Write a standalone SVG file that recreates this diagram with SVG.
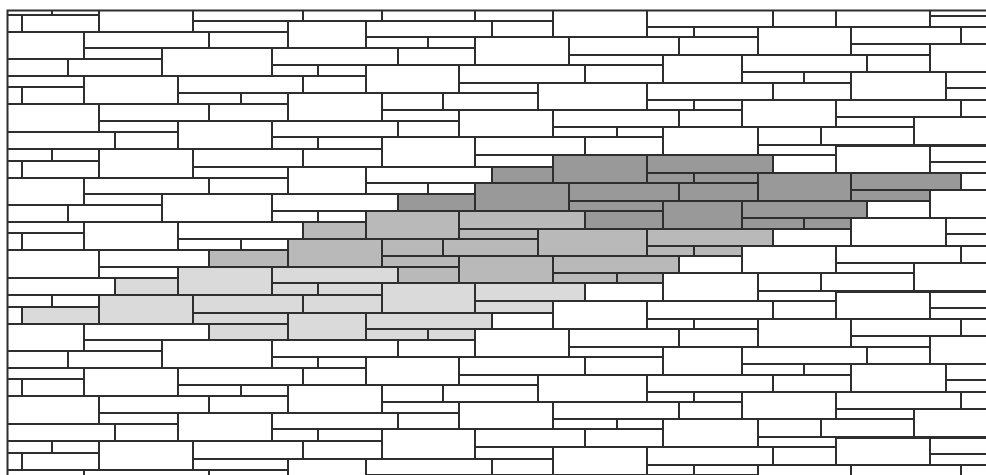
<svg xmlns="http://www.w3.org/2000/svg" width="986" height="475" viewBox="0 0 986 475">
<style>
.st{stroke:#2e2e2e;stroke-width:2}
.w{fill:#fff}
.l{fill:#dadada}
.m{fill:#b9b9b9}
.d{fill:#999}
</style>
<defs>
<clipPath id="clip"><rect x="7" y="10" width="990" height="480"/></clipPath>
<g id="band" fill="#fff" stroke="#2e2e2e" stroke-width="2">
<rect x="-20" y="3" width="72" height="12"/>
<rect x="52" y="3" width="47" height="12"/>
<rect x="99" y="3" width="94" height="29"/>
<rect x="193" y="3" width="110" height="18"/>
<rect x="303" y="3" width="79" height="18"/>
<rect x="-20" y="15" width="42" height="17"/>
<rect x="22" y="15" width="77" height="17"/>
<rect x="193" y="21" width="95" height="11"/>
<rect x="288" y="21" width="78" height="27"/>
<rect x="-20" y="32" width="104" height="27"/>
<rect x="84" y="32" width="125" height="16"/>
<rect x="209" y="32" width="79" height="16"/>
<rect x="84" y="48" width="78" height="11"/>
<rect x="162" y="48" width="110" height="28"/>
<rect x="272" y="48" width="126" height="17"/>
<rect x="272" y="65" width="46" height="11"/>
<rect x="318" y="65" width="48" height="11"/>
<rect x="-20" y="59" width="88" height="17"/>
<rect x="68" y="59" width="94" height="17"/>
<rect x="-20" y="76" width="104" height="11"/>
<rect x="-20" y="87" width="42" height="17"/>
<rect x="22" y="87" width="62" height="17"/>
<rect x="84" y="76" width="94" height="28"/>
<rect x="178" y="76" width="125" height="17"/>
<rect x="303" y="76" width="63" height="17"/>
<rect x="178" y="93" width="63" height="11"/>
<rect x="241" y="93" width="47" height="11"/>
<rect x="288" y="93" width="94" height="28"/>
<rect x="-20" y="104" width="119" height="28"/>
<rect x="99" y="104" width="110" height="17"/>
<rect x="209" y="104" width="79" height="17"/>
<rect x="99" y="121" width="79" height="11"/>
<rect x="178" y="121" width="94" height="28"/>
<rect x="272" y="121" width="126" height="16"/>
<rect x="272" y="137" width="46" height="12"/>
<rect x="318" y="137" width="64" height="12"/>
<rect x="-20" y="132" width="135" height="17"/>
<rect x="115" y="132" width="63" height="17"/>
<rect x="382" y="137" width="93" height="30"/>
<rect x="475" y="9" width="78" height="12"/>
<rect x="553" y="9" width="94" height="28"/>
<rect x="366" y="21" width="126" height="16"/>
<rect x="492" y="21" width="61" height="16"/>
<rect x="366" y="37" width="62" height="11"/>
<rect x="428" y="37" width="47" height="11"/>
<rect x="475" y="37" width="94" height="28"/>
<rect x="569" y="37" width="110" height="18"/>
<rect x="569" y="55" width="94" height="10"/>
<rect x="398" y="48" width="77" height="17"/>
<rect x="366" y="65" width="93" height="28"/>
<rect x="459" y="65" width="126" height="18"/>
<rect x="585" y="65" width="78" height="18"/>
<rect x="459" y="83" width="79" height="10"/>
<rect x="538" y="83" width="109" height="27"/>
<rect x="647" y="83" width="126" height="17"/>
<rect x="647" y="100" width="47" height="10"/>
<rect x="382" y="93" width="61" height="17"/>
<rect x="443" y="93" width="95" height="17"/>
<rect x="382" y="110" width="77" height="11"/>
<rect x="459" y="110" width="94" height="27"/>
<rect x="553" y="110" width="126" height="17"/>
<rect x="553" y="127" width="64" height="10"/>
<rect x="617" y="127" width="46" height="10"/>
<rect x="398" y="121" width="61" height="16"/>
<rect x="475" y="137" width="110" height="18"/>
<rect x="585" y="137" width="78" height="18"/>
<rect x="647" y="9" width="126" height="18"/>
<rect x="773" y="9" width="63" height="18"/>
<rect x="836" y="0" width="94" height="27"/>
<rect x="930" y="0" width="70" height="16"/>
<rect x="930" y="16" width="70" height="11"/>
<rect x="647" y="27" width="47" height="10"/>
<rect x="694" y="27" width="64" height="10"/>
<rect x="679" y="37" width="79" height="18"/>
<rect x="758" y="27" width="93" height="28"/>
<rect x="851" y="27" width="110" height="17"/>
<rect x="961" y="27" width="39" height="17"/>
<rect x="851" y="44" width="79" height="11"/>
<rect x="930" y="44" width="70" height="28"/>
<rect x="663" y="55" width="79" height="28"/>
<rect x="742" y="55" width="125" height="17"/>
<rect x="867" y="55" width="63" height="17"/>
<rect x="742" y="72" width="62" height="11"/>
<rect x="804" y="72" width="47" height="11"/>
<rect x="851" y="72" width="95" height="28"/>
<rect x="946" y="72" width="54" height="16"/>
<rect x="946" y="88" width="54" height="12"/>
<rect x="773" y="83" width="78" height="17"/>
<rect x="694" y="100" width="48" height="10"/>
<rect x="679" y="110" width="63" height="17"/>
<rect x="742" y="100" width="94" height="27"/>
<rect x="836" y="100" width="125" height="17"/>
<rect x="961" y="100" width="39" height="17"/>
<rect x="836" y="117" width="78" height="10"/>
<rect x="914" y="117" width="86" height="28"/>
<rect x="663" y="127" width="95" height="28"/>
<rect x="758" y="127" width="63" height="18"/>
<rect x="821" y="127" width="93" height="18"/>
<rect x="758" y="145" width="78" height="10"/>
</g>
</defs>
<rect x="0" y="0" width="986" height="475" fill="#fff"/>
<g id="wall" clip-path="url(#clip)">
<use href="#band" y="-146"/>
<use href="#band" y="0"/>
<use href="#band" y="146"/>
<use href="#band" y="292"/>
<use href="#band" y="438"/>
<g id="dark-unit" class="d st">
<rect x="553" y="155" width="94" height="28"/>
<rect x="492" y="167" width="61" height="16"/>
<rect x="475" y="183" width="94" height="28"/>
<rect x="569" y="183" width="110" height="18"/>
<rect x="569" y="201" width="94" height="10"/>
<rect x="398" y="194" width="77" height="17"/>
<rect x="585" y="211" width="78" height="18"/>
<rect x="647" y="155" width="126" height="18"/>
<rect x="647" y="173" width="47" height="10"/>
<rect x="694" y="173" width="64" height="10"/>
<rect x="679" y="183" width="79" height="18"/>
<rect x="758" y="173" width="93" height="28"/>
<rect x="851" y="173" width="110" height="17"/>
<rect x="851" y="190" width="79" height="11"/>
<rect x="663" y="201" width="79" height="28"/>
<rect x="742" y="201" width="125" height="17"/>
<rect x="742" y="218" width="62" height="11"/>
<rect x="804" y="218" width="47" height="11"/>
</g>
<g id="medium-unit" class="m st">
<rect x="303" y="222" width="63" height="17"/>
<rect x="288" y="239" width="94" height="28"/>
<rect x="209" y="250" width="79" height="17"/>
<rect x="366" y="211" width="93" height="28"/>
<rect x="459" y="211" width="126" height="18"/>
<rect x="459" y="229" width="79" height="10"/>
<rect x="538" y="229" width="109" height="27"/>
<rect x="647" y="229" width="126" height="17"/>
<rect x="647" y="246" width="47" height="10"/>
<rect x="694" y="246" width="48" height="10"/>
<rect x="382" y="239" width="61" height="17"/>
<rect x="443" y="239" width="95" height="17"/>
<rect x="382" y="256" width="77" height="11"/>
<rect x="459" y="256" width="94" height="27"/>
<rect x="553" y="256" width="126" height="17"/>
<rect x="553" y="273" width="64" height="10"/>
<rect x="617" y="273" width="46" height="10"/>
<rect x="398" y="267" width="61" height="16"/>
</g>
<g id="light-unit" class="l st">
<rect x="178" y="267" width="94" height="28"/>
<rect x="272" y="267" width="126" height="16"/>
<rect x="272" y="283" width="46" height="12"/>
<rect x="318" y="283" width="64" height="12"/>
<rect x="115" y="278" width="63" height="17"/>
<rect x="382" y="283" width="93" height="30"/>
<rect x="475" y="283" width="110" height="18"/>
<rect x="99" y="295" width="94" height="29"/>
<rect x="193" y="295" width="110" height="18"/>
<rect x="303" y="295" width="79" height="18"/>
<rect x="22" y="307" width="77" height="17"/>
<rect x="193" y="313" width="95" height="11"/>
<rect x="288" y="313" width="78" height="27"/>
<rect x="209" y="324" width="79" height="16"/>
<rect x="475" y="301" width="78" height="12"/>
<rect x="366" y="313" width="126" height="16"/>
<rect x="366" y="329" width="62" height="11"/>
<rect x="428" y="329" width="47" height="11"/>
</g>
</g>
<path id="border" d="M7.5 475V10.5H986" fill="none" stroke="#2e2e2e" stroke-width="2"/>
</svg>
